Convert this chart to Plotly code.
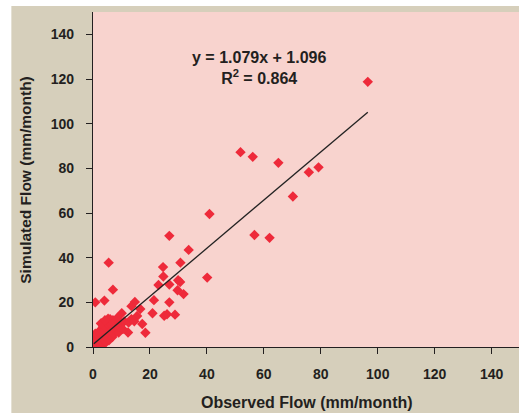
import plotly.graph_objects as go

# Observed vs simulated monthly flow (mm/month)
observed = [
    96.5, 51.8, 56.1, 65.1, 79.2, 75.8, 70.2, 40.9, 56.7, 62.0,
    26.8, 33.6, 5.5, 30.7, 24.6, 24.7, 40.1, 29.9, 30.6, 23.0, 26.8, 7.0, 29.7, 31.8,
    0.8, 4.0, 21.4, 14.7, 26.8, 13.5, 16.6, 20.9, 10.1, 25.0, 26.0, 28.8, 15.5, 5.3,
    17.3, 12.3, 18.4, 2.9,
    0.3, 0.5, 0.8, 1.0, 1.2, 1.5, 1.8, 2.0, 2.2, 2.5, 2.8, 3.0, 3.2, 3.5, 3.8, 4.0,
    4.3, 4.6, 5.0, 5.3, 5.6, 6.0, 6.3, 6.8, 7.2, 7.5, 8.0, 8.5, 9.0, 9.5,
    0.5, 0.8, 1.5, 2.0, 3.0, 3.5, 4.5, 5.0, 6.0, 7.0, 8.0, 8.5, 10.0, 11.0,
    12.5, 13.5, 14.5, 2.8, 4.2, 6.5, 9.0, 10.5,
]
simulated = [
    118.8, 87.3, 85.2, 82.5, 80.5, 78.3, 67.4, 59.6, 50.2, 48.9,
    49.8, 43.5, 37.8, 37.8, 35.8, 31.6, 31.1, 29.9, 29.1, 27.8, 28.0, 25.7, 25.4, 23.7,
    20.0, 20.8, 21.0, 20.2, 20.0, 18.3, 17.0, 15.1, 15.1, 14.0, 14.7, 14.5, 13.9, 12.7,
    10.3, 6.5, 6.4, 10.6,
    0.5, 1.2, 2.0, 0.3, 3.0, 1.5, 0.8, 2.5, 4.0, 1.0, 3.2, 0.6, 2.0, 4.5, 1.5, 3.0,
    5.5, 2.2, 4.0, 6.5, 3.0, 5.0, 7.5, 4.5, 6.0, 8.5, 7.0, 9.5, 6.5, 11.0,
    4.0, 6.0, 5.5, 6.8, 7.5, 9.0, 8.5, 10.5, 12.5, 12.0, 11.5, 13.0, 10.5, 11.5,
    11.0, 12.5, 11.5, 10.5, 12.0, 10.0, 9.0, 8.0,
]

slope = 1.079
intercept = 1.096
r_squared = 0.864

x_ticks = [0, 20, 40, 60, 80, 100, 120, 140]
y_ticks = [0, 20, 40, 60, 80, 100, 120, 140]

fit_x = [min(observed), max(observed)]
fit_y = [slope * v + intercept for v in fit_x]

FONT = "Liberation Sans, Arial, sans-serif"
TEXT = "#231f20"

fig = go.Figure()
fig.add_trace(go.Scatter(
    x=observed, y=simulated, mode="markers",
    marker=dict(symbol="diamond", size=8, color="#ee2a3a", line=dict(width=0)),
    showlegend=False, hoverinfo="x+y",
))
fig.add_trace(go.Scatter(
    x=fit_x, y=fit_y, mode="lines",
    line=dict(color="#222222", width=1.3),
    showlegend=False, hoverinfo="skip",
))

fig.add_annotation(
    x=58.2, y=125.2, xref="x", yref="y",
    text=f"<b>y = {slope}x + {intercept}<br>R<sup>2</sup> = {r_squared}</b>",
    showarrow=False, align="center",
    font=dict(family=FONT, size=16, color=TEXT),
)
fig.add_annotation(
    x=0.503, y=-0.165, xref="paper", yref="paper",
    text="<b>Observed Flow (mm/month)</b>", showarrow=False,
    font=dict(family=FONT, size=16, color=TEXT), yanchor="middle",
)
fig.add_annotation(
    x=-0.159, y=0.5, xref="paper", yref="paper",
    text="<b>Simulated Flow (mm/month)</b>", showarrow=False, textangle=-90,
    font=dict(family=FONT, size=15.5, color=TEXT), xanchor="center",
)

# beige frame around the plot area, then the pink plotting field on top of it
fig.add_shape(
    type="rect", xref="paper", yref="paper",
    x0=(11 - 92.7) / 426.3, x1=1.0, y0=-66.3 / 334.7, y1=(346.7 - 6) / 334.7,
    fillcolor="#d6cfbb", line=dict(width=0), layer="below",
)
fig.add_shape(
    type="rect", xref="paper", yref="paper",
    x0=0, x1=1, y0=0, y1=1,
    fillcolor="#f8d3ce", line=dict(width=0), layer="below",
)

axis_common = dict(
    showgrid=False, zeroline=False, showline=True, linecolor="#231f20", linewidth=1.3,
    ticks="outside", ticklen=6, tickwidth=1, tickcolor="#231f20",
    tickfont=dict(family=FONT, size=14, color=TEXT),
)
fig.update_xaxes(range=[0, 149.6], tickvals=x_ticks,
                 ticktext=[f"<b>{v}</b>" for v in x_ticks],
                 ticklabelstandoff=8, **axis_common)
fig.update_yaxes(range=[0, 150.1], tickvals=y_ticks,
                 ticktext=[f"<b>{v}</b>" for v in y_ticks],
                 ticklabelstandoff=9, **axis_common)

fig.update_layout(
    width=519, height=413,
    margin=dict(l=92.7, r=0, t=12, b=66.3),
    paper_bgcolor="white", plot_bgcolor="#f8d3ce",
    font=dict(family=FONT, color=TEXT),
)

fig.write_html("out.html")
